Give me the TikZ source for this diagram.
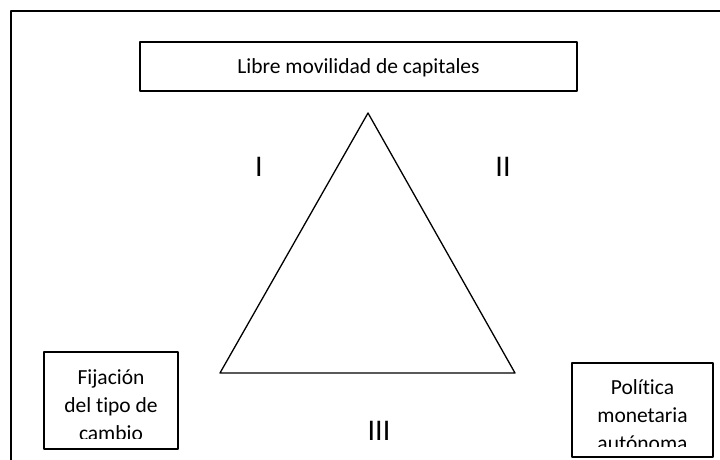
\documentclass[tikz,border=0pt]{standalone}
\usepackage{fontspec}
\setmainfont[Ligatures=NoCommon]{Carlito}
\usetikzlibrary{positioning}

\begin{document}
\begin{tikzpicture}[line cap=round,line join=round,x=1.0pt,y=1.0pt,
	caja/.style={draw,line width=1.6pt,inner sep=0pt},
	textocaja/.style={font=\fontsize{21.5}{28}\selectfont,inner sep=0pt,anchor=base},
	numeral/.style={font=\fontsize{30}{34}\selectfont,inner sep=0pt}]
			\useasboundingbox (0,0) rectangle (720,460);
			\clip (0,0) rectangle (720,460);
			\draw [line width=1.6pt] (11,-10) rectangle (740,449);
			\node[caja,minimum width=437,minimum height=49] (capitales) at (358.5,393.5) {};
			\node[textocaja] at ([yshift=-7]capitales.center) {Libre movilidad de capitales};
			\coordinate (apice) at (368,347);
			\coordinate (izq) at (220,87);
			\coordinate (der) at (515,87);
			\draw [line width=1.3pt] (apice)-- (izq)-- (der)-- cycle;
			\node[numeral] (uno) at (259,293) {I};
			\node[numeral] (dos) at (503,293) {II};
			\node[numeral] (tres) at (379,29) {III};
			\node[caja,minimum width=134,minimum height=97] (fijacion) at (111,59.5) {};
			\node[caja,minimum width=141,minimum height=94] (politica) at (642.5,50) {};
			\begin{scope}
				\clip ([yshift=11]fijacion.south west) rectangle (fijacion.north east);
				\foreach \linea/\y in {Fijación/75,del tipo de/47,cambio/19}
					\node[textocaja] at (111,\y) {\linea};
			\end{scope}
			\begin{scope}
				\clip ([yshift=11]politica.south west) rectangle (politica.north east);
				\foreach \linea/\y in {Política/65,monetaria/37,autónoma/9}
					\node[textocaja] at (642.5,\y) {\linea};
			\end{scope}
		\end{tikzpicture}
\end{document}
